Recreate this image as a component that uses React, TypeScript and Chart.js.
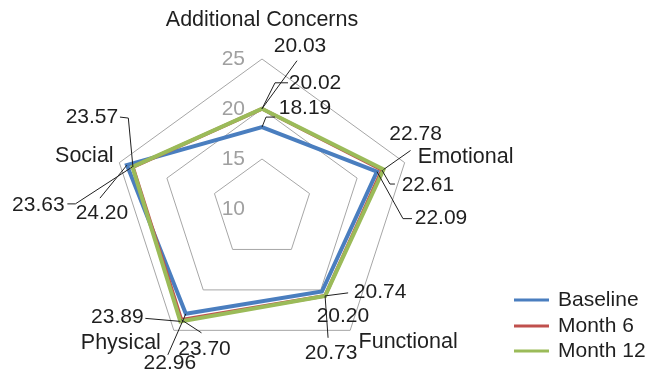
import { useEffect, useRef } from 'react';
import { Chart, registerables } from 'chart.js';

Chart.register(...registerables);

const W = 649;
const H = 381;
const FONT_FAMILY = '"Liberation Sans", Arial, Helvetica, sans-serif';

// Chart data
const categories = ['Additional Concerns', 'Emotional', 'Functional', 'Physical', 'Social'];
const seriesNames = ['Baseline', 'Month 6', 'Month 12'];
const baseline = [18.19, 22.09, 20.2, 22.96, 24.2];
const month6 = [20.02, 22.61, 20.73, 23.7, 23.57];
const month12 = [20.03, 22.78, 20.74, 23.89, 23.63];
const tickValues = [10, 15, 20, 25];

const seriesColors = ['#4a7ebf', '#c0504d', '#9bbb59'];
const seriesWidths = [4, 3.5, 4];

// Value label placement: text offset from its point, then leader-line vertices (also offsets from the point)
type LabelPlace = { t: [number, number]; l: [number, number][] };
const baselineLabelPlaces: LabelPlace[] = [
  { t: [43, -19], l: [[4, -10], [13, -10]] },
  { t: [64, 47], l: [[26, 47], [35, 47]] },
  { t: [21, 25], l: [] },
  { t: [-16, 49], l: [[-18, 41]] },
  { t: [-25, 48], l: [[-27, 33]] },
];
const month6LabelPlaces: LabelPlace[] = [
  { t: [53, -26], l: [[13, -26], [26, -26]] },
  { t: [46, 15], l: [[8, 14], [13, 14]] },
  { t: [6, 57], l: [[3, 42]] },
  { t: [23, 29], l: [[20, 13]] },
  { t: [-41, -50], l: [[-4.6, -49], [-13, -50]] },
];
const month12LabelPlaces: LabelPlace[] = [
  { t: [38, -62], l: [[35, -48]] },
  { t: [32, -35], l: [[27, -19]] },
  { t: [55, -4], l: [[23, -3]] },
  { t: [-63, -4], l: [[-35, -3]] },
  { t: [-94, 38], l: [[-57, 37], [-65, 37]] },
];
const labelPlaces = [baselineLabelPlaces, month6LabelPlaces, month12LabelPlaces];

// Category label offsets from the outer (max) vertex of each axis
const categoryOffsets: [number, number][] = [
  [0, -39],
  [61, -6],
  [58, 12],
  [-53, 13],
  [-35, -7],
];

const decorations = {
  id: 'decorations',
  afterDatasetsDraw(chart: any) {
    const ctx = chart.ctx as CanvasRenderingContext2D;
    const scale = chart.scales.r;
    ctx.save();
    ctx.font = `21px ${FONT_FAMILY}`;
    ctx.textBaseline = 'middle';

    // Scale values beside the top axis
    ctx.fillStyle = '#a0a0a0';
    ctx.textAlign = 'right';
    tickValues.forEach((v) => {
      const p = scale.getPointPositionForValue(0, v);
      ctx.fillText(String(v), p.x - 17, p.y);
    });

    // Category names
    ctx.fillStyle = '#1f1f1f';
    ctx.textAlign = 'center';
    ctx.font = `21.5px ${FONT_FAMILY}`;
    categories.forEach((name, i) => {
      const p = scale.getPointPositionForValue(i, scale.max);
      const [dx, dy] = categoryOffsets[i];
      ctx.fillText(name, p.x + dx, p.y + dy);
    });
    ctx.font = `21px ${FONT_FAMILY}`;

    // Value labels with leader lines
    ctx.strokeStyle = '#1f1f1f';
    ctx.lineWidth = 1;
    chart.data.datasets.forEach((ds: any, si: number) => {
      const meta = chart.getDatasetMeta(si);
      meta.data.forEach((pt: any, i: number) => {
        const place = labelPlaces[si][i];
        const value = ds.data[i] as number;
        if (place.l.length) {
          ctx.beginPath();
          ctx.moveTo(pt.x, pt.y);
          place.l.forEach(([lx, ly]) => ctx.lineTo(pt.x + lx, pt.y + ly));
          ctx.stroke();
        }
        ctx.fillText(value.toFixed(2), pt.x + place.t[0], pt.y + place.t[1]);
      });
    });

    // Legend
    const legendY = [300, 326, 351];
    seriesNames.forEach((name, i) => {
      ctx.strokeStyle = seriesColors[i];
      ctx.lineWidth = 3;
      ctx.beginPath();
      ctx.moveTo(514, legendY[i]);
      ctx.lineTo(549, legendY[i]);
      ctx.stroke();
      ctx.fillStyle = '#1f1f1f';
      ctx.textAlign = 'left';
      ctx.fillText(name, 558, legendY[i]);
    });
    ctx.restore();
  },
};

export default function App() {
  const canvasRef = useRef<HTMLCanvasElement>(null);

  useEffect(() => {
    const canvas = canvasRef.current;
    if (!canvas) return;
    const series = [baseline, month6, month12];
    const chart = new Chart(canvas, {
      type: 'radar',
      data: {
        labels: categories,
        datasets: series.map((data, i) => ({
          label: seriesNames[i],
          data,
          borderColor: seriesColors[i],
          backgroundColor: seriesColors[i],
          borderWidth: seriesWidths[i],
          fill: false,
          pointRadius: 0,
          pointHoverRadius: 0,
          order: 2 - i,
        })),
      },
      options: {
        responsive: false,
        animation: false,
        devicePixelRatio: 1,
        layout: { padding: { left: 112, right: 237, top: 59, bottom: 22 } },
        plugins: {
          legend: { display: false },
          tooltip: { enabled: false },
        },
        elements: { line: { tension: 0, borderJoinStyle: 'miter' } },
        scales: {
          r: {
            min: 10,
            max: 25,
            ticks: { display: false, stepSize: 5 },
            grid: { color: '#a6a6a6', lineWidth: 1 },
            angleLines: { display: false },
            pointLabels: { display: false },
          },
        },
      },
      plugins: [decorations],
    });
    return () => chart.destroy();
  }, []);

  return (
    <div style={{ position: 'absolute', left: 0, top: 0, width: W, height: H, background: '#fff' }}>
      <canvas ref={canvasRef} width={W} height={H} style={{ display: 'block' }} />
    </div>
  );
}
